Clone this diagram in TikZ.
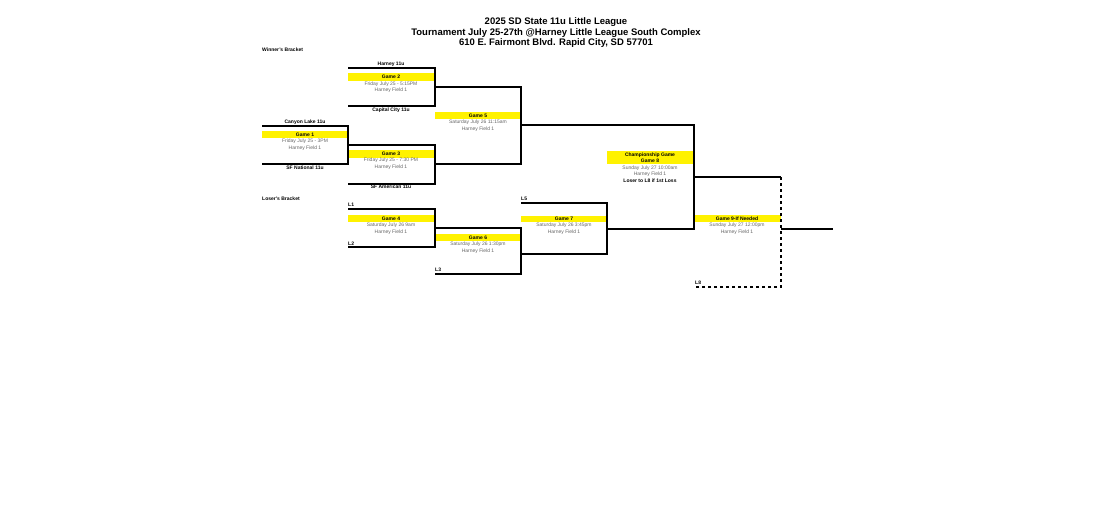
\documentclass[tikz,border=0pt]{standalone}
\usepackage{fontspec}
\setmainfont{Liberation Sans}
\begin{document}
\begin{tikzpicture}[x=1pt,y=-1pt,
  br/.style={line width=1.2pt},
  band/.style={fill=yellow,draw=none},
  gt/.style={font=\fontsize{5}{6}\selectfont\bfseries,inner sep=0},
  st/.style={font=\fontsize{5}{6}\selectfont,text=black!60,inner sep=0},
  tm/.style={font=\fontsize{5}{6}\selectfont\bfseries,inner sep=0},
  ttl/.style={font=\fontsize{9.5}{11}\selectfont\bfseries,inner sep=0}]
\useasboundingbox (0,0) rectangle (1110,520);
\node[ttl] (t1) at (556,22) {2025 SD State 11u Little League};
\node[ttl] (t2) at (556,33) {Tournament July 25-27th @Harney Little League South Complex};
\node[ttl] (t3) at (556,43) {610 E. Fairmont Blvd. Rapid City, SD 57701};
\node[tm,anchor=west] (wb) at (262,50) {Winner's Bracket};
\node[tm,anchor=west] (lb) at (262,199) {Loser's Bracket};
% bands
\fill[band] (348,73) rectangle (435,81);
\fill[band] (262,131) rectangle (348,138);
\fill[band] (348,150) rectangle (435,158);
\fill[band] (435,112) rectangle (521,119);
\fill[band] (607,151) rectangle (694,164);
\fill[band] (348,215) rectangle (435,222);
\fill[band] (435,234) rectangle (521,241);
\fill[band] (521,216) rectangle (607,222);
\fill[band] (694,215) rectangle (781,222);
% brackets
\draw[br] (348,68) -- (435,68) -- (435,106) -- (348,106);
\draw[br] (262,126) -- (348,126) -- (348,164) -- (262,164);
\draw[br] (348,145) -- (435,145) -- (435,184) -- (348,184);
\draw[br] (435,87) -- (521,87) -- (521,164) -- (435,164);
\draw[br] (521,125) -- (694,125) -- (694,229) -- (607,229);
\draw[br] (348,209) -- (435,209) -- (435,247) -- (348,247);
\draw[br] (435,228) -- (521,228) -- (521,274) -- (435,274);
\draw[br] (521,203) -- (607,203) -- (607,254) -- (521,254);
\draw[br] (694,177) -- (781,177);
\draw[br,dashed] (781,177) -- (781,287) -- (694,287);
\draw[br] (781,229) -- (833,229);
% team labels
\node[tm] (h) at (391,64) {Harney 11u};
\node[tm] (cc) at (391,110) {Capital City 11u};
\node[tm] (cl) at (305,122) {Canyon Lake 11u};
\node[tm] (sfn) at (305,168) {SF National 11u};
\node[tm] (sfa) at (391,187) {SF American 11u};
\node[tm,anchor=west] (l1) at (348,205) {L1};
\node[tm,anchor=west] (l2) at (348,244) {L2};
\node[tm,anchor=west] (l3) at (435,270) {L3};
\node[tm,anchor=west] (l5) at (521,199) {L5};
\node[tm,anchor=west] (l8) at (695,283) {L8};
% games
\node[gt] (g2) at (391,77) {Game 2};
\node[st] at (391,84) {Friday July 25 - 5:15PM};
\node[st] at (391,90) {Harney Field 1};
\node[gt] (g1) at (305,135) {Game 1};
\node[st] at (305,141) {Friday July 25 - 3PM};
\node[st] at (305,148) {Harney Field 1};
\node[gt] (g3) at (391,154) {Game 3};
\node[st] at (391,160) {Friday July 25 - 7:30 PM};
\node[st] at (391,167) {Harney Field 1};
\node[gt] (g5) at (478,116) {Game 5};
\node[st] at (478,122) {Saturday July 26 11:15am};
\node[st] at (478,129) {Harney Field 1};
\node[gt] (g8a) at (650,155) {Championship Game};
\node[gt] (g8) at (650,161) {Game 8};
\node[st] at (650,168) {Sunday July 27 10:00am};
\node[st] at (650,174) {Harney Field 1};
\node[tm] at (650,181) {Loser to L8 if 1st Loss};
\node[gt] (g4) at (391,219) {Game 4};
\node[st] at (391,225) {Saturday July 26 9am};
\node[st] at (391,232) {Harney Field 1};
\node[gt] (g6) at (478,238) {Game 6};
\node[st] at (478,244) {Saturday July 26 1:30pm};
\node[st] at (478,251) {Harney Field 1};
\node[gt] (g7) at (564,219) {Game 7};
\node[st] at (564,225) {Saturday July 26 3:45pm};
\node[st] at (564,232) {Harney Field 1};
\node[gt] (g9) at (737,219) {Game 9-If Needed};
\node[st] at (737,225) {Sunday July 27 12:00pm};
\node[st] at (737,232) {Harney Field 1};
\end{tikzpicture}
\end{document}
